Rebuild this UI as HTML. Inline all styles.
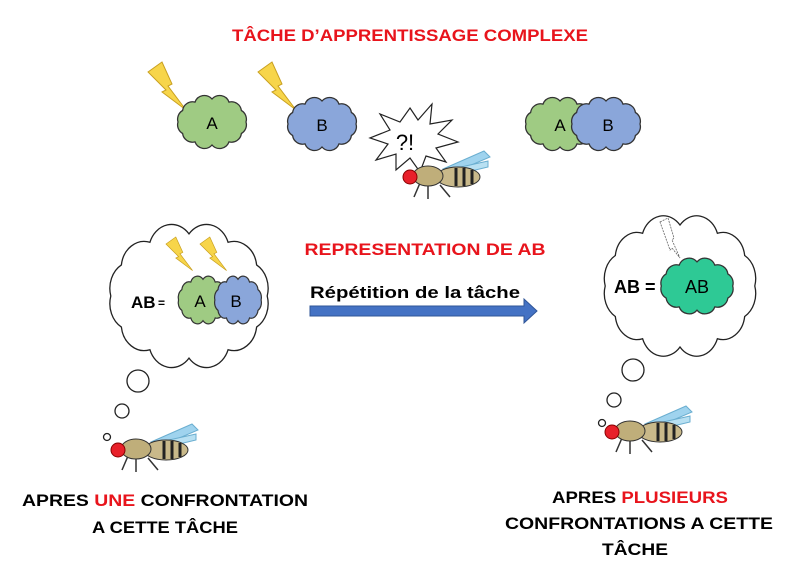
<!DOCTYPE html>
<html><head><meta charset="utf-8"><style>
html,body{margin:0;padding:0;background:#fff;width:803px;height:582px;overflow:hidden}
svg text{font-family:"Liberation Sans Narrow","Liberation Sans",sans-serif;font-weight:bold}
</style></head><body>
<svg width="803" height="582" viewBox="0 0 803 582" xmlns="http://www.w3.org/2000/svg">
<defs>
<path id="cl" vector-effect="non-scaling-stroke" d="M34,0 A10 10 0 0 1 29.4,11.5 A10 10 0 0 1 17,19.9 A10 10 0 0 1 0,23 A10 10 0 0 1 -17,19.9 A10 10 0 0 1 -29.4,11.5 A10 10 0 0 1 -34,0 A10 10 0 0 1 -29.4,-11.5 A10 10 0 0 1 -17,-19.9 A10 10 0 0 1 0,-23 A10 10 0 0 1 17,-19.9 A10 10 0 0 1 29.4,-11.5 A10 10 0 0 1 34,0Z"/>
<polygon id="bolt" points="0,10 14,0 24,22 20,24 38,48 14,30 18,28" fill="#f7d54a" stroke="#c9a020" stroke-width="1"/>
<g id="fly">
<path d="M45,14 L86,-4 L92,2 L50,20Z" fill="#9fd3ee" stroke="#6aaed0" stroke-width="1"/>
<path d="M45,16 L90,6 L90,12 L48,22Z" fill="#b8e0f2" stroke="#6aaed0" stroke-width="1"/>
<line x1="22" y1="28" x2="16" y2="42" stroke="#333" stroke-width="1.5"/>
<line x1="30" y1="30" x2="30" y2="44" stroke="#333" stroke-width="1.5"/>
<line x1="42" y1="30" x2="52" y2="42" stroke="#333" stroke-width="1.5"/>
<ellipse cx="60" cy="22" rx="22" ry="10" fill="#c9b98a" stroke="#333" stroke-width="1"/>
<path d="M58,13 v18 M66,13 v18 M74,15 v14" stroke="#222" stroke-width="3"/>
<ellipse cx="30" cy="21" rx="15" ry="10" fill="#bfae7a" stroke="#333" stroke-width="1"/>
<circle cx="12" cy="22" r="7" fill="#e8202a" stroke="#800" stroke-width="1"/>
</g>
</defs>

<text x="410" y="41" fill="#e8141c" font-size="17" text-anchor="middle" textLength="356" lengthAdjust="spacingAndGlyphs">TÂCHE D’APPRENTISSAGE COMPLEXE</text>

<use href="#bolt" transform="translate(148,62)"/>
<use href="#cl" transform="translate(212,122)" fill="#9fcb83" stroke="#333" stroke-width="1.3"/>
<text x="212" y="129" font-size="17" text-anchor="middle" style="font-weight:normal">A</text>
<use href="#bolt" transform="translate(258,62)"/>
<use href="#cl" transform="translate(322,124)" fill="#8aa6da" stroke="#333" stroke-width="1.3"/>
<text x="322" y="131" font-size="17" text-anchor="middle" style="font-weight:normal">B</text>

<polygon points="410,108 418,120 432,104 430,124 452,120 438,134 458,142 436,148 446,162 426,156 420,172 410,158 396,170 396,154 376,160 388,144 370,138 390,130 380,114 400,122" fill="#fff" stroke="#222" stroke-width="1.2"/>
<text x="405" y="150" font-size="22" text-anchor="middle" style="font-weight:normal">?!</text>
<use href="#fly" transform="translate(398,155)"/>

<use href="#cl" transform="translate(560,124)" fill="#9fcb83" stroke="#333" stroke-width="1.3"/>
<use href="#cl" transform="translate(606,124)" fill="#8aa6da" stroke="#333" stroke-width="1.3"/>
<text x="560" y="131" font-size="17" text-anchor="middle" style="font-weight:normal">A</text>
<text x="608" y="131" font-size="17" text-anchor="middle" style="font-weight:normal">B</text>

<!-- left thought -->
<use href="#cl" transform="translate(189,296) scale(2.3,2.7)" fill="#fff" stroke="#222" stroke-width="1.3"/>
<circle cx="138" cy="381" r="11" fill="#fff" stroke="#222" stroke-width="1.3"/>
<circle cx="122" cy="411" r="7" fill="#fff" stroke="#222" stroke-width="1.3"/>
<circle cx="107" cy="437" r="3.5" fill="#fff" stroke="#222" stroke-width="1.3"/>
<use href="#bolt" transform="translate(166,237) scale(0.7)"/>
<use href="#bolt" transform="translate(200,237) scale(0.7)"/>
<use href="#cl" transform="translate(203,300) scale(0.72,0.9)" fill="#9fcb83" stroke="#333" stroke-width="1.2"/>
<use href="#cl" transform="translate(238,300) scale(0.68,0.9)" fill="#8aa6da" stroke="#333" stroke-width="1.2"/>
<text x="131" y="308" font-size="17">AB</text>
<text x="158" y="307" font-size="12">=</text>
<text x="200" y="307" font-size="17" text-anchor="middle" style="font-weight:normal">A</text>
<text x="236" y="307" font-size="17" text-anchor="middle" style="font-weight:normal">B</text>
<use href="#fly" transform="translate(106,428)"/>

<!-- arrow -->
<text x="425" y="255" fill="#e8141c" font-size="17" text-anchor="middle" textLength="241" lengthAdjust="spacingAndGlyphs">REPRESENTATION DE AB</text>
<text x="415" y="298" font-size="17" text-anchor="middle" textLength="210" lengthAdjust="spacingAndGlyphs">Répétition de la tâche</text>
<polygon points="310,306 524,306 524,299 537,311 524,323 524,316 310,316" fill="#4472c4" stroke="#2f5597" stroke-width="1"/>

<!-- right thought -->
<use href="#cl" transform="translate(680,286) scale(2.2,2.65)" fill="#fff" stroke="#222" stroke-width="1.3"/>
<circle cx="633" cy="370" r="11" fill="#fff" stroke="#222" stroke-width="1.3"/>
<circle cx="614" cy="400" r="7" fill="#fff" stroke="#222" stroke-width="1.3"/>
<circle cx="602" cy="423" r="3.5" fill="#fff" stroke="#222" stroke-width="1.3"/>
<polygon points="660,222 668,218 674,238 672,240 680,258 672,248 670,250" fill="none" stroke="#666" stroke-width="0.8" stroke-dasharray="2,1"/>
<use href="#cl" transform="translate(697,286) scale(1.05,1.05)" fill="#2ec995" stroke="#333" stroke-width="1.3"/>
<text x="614" y="293" font-size="18">AB =</text>
<text x="697" y="293" font-size="18" text-anchor="middle" style="font-weight:normal">AB</text>
<use href="#fly" transform="translate(600,410)"/>

<text x="165" y="506" font-size="17" text-anchor="middle" textLength="286" lengthAdjust="spacingAndGlyphs">APRES <tspan fill="#e8141c">UNE</tspan> CONFRONTATION</text>
<text x="165" y="533" font-size="17" text-anchor="middle" textLength="146" lengthAdjust="spacingAndGlyphs">A CETTE TÂCHE</text>
<text x="640" y="503" font-size="17" text-anchor="middle" textLength="176" lengthAdjust="spacingAndGlyphs">APRES <tspan fill="#e8141c">PLUSIEURS</tspan></text>
<text x="639" y="529" font-size="17" text-anchor="middle" textLength="268" lengthAdjust="spacingAndGlyphs">CONFRONTATIONS A CETTE</text>
<text x="635" y="555" font-size="17" text-anchor="middle" textLength="66" lengthAdjust="spacingAndGlyphs">TÂCHE</text>
</svg>
</body></html>
